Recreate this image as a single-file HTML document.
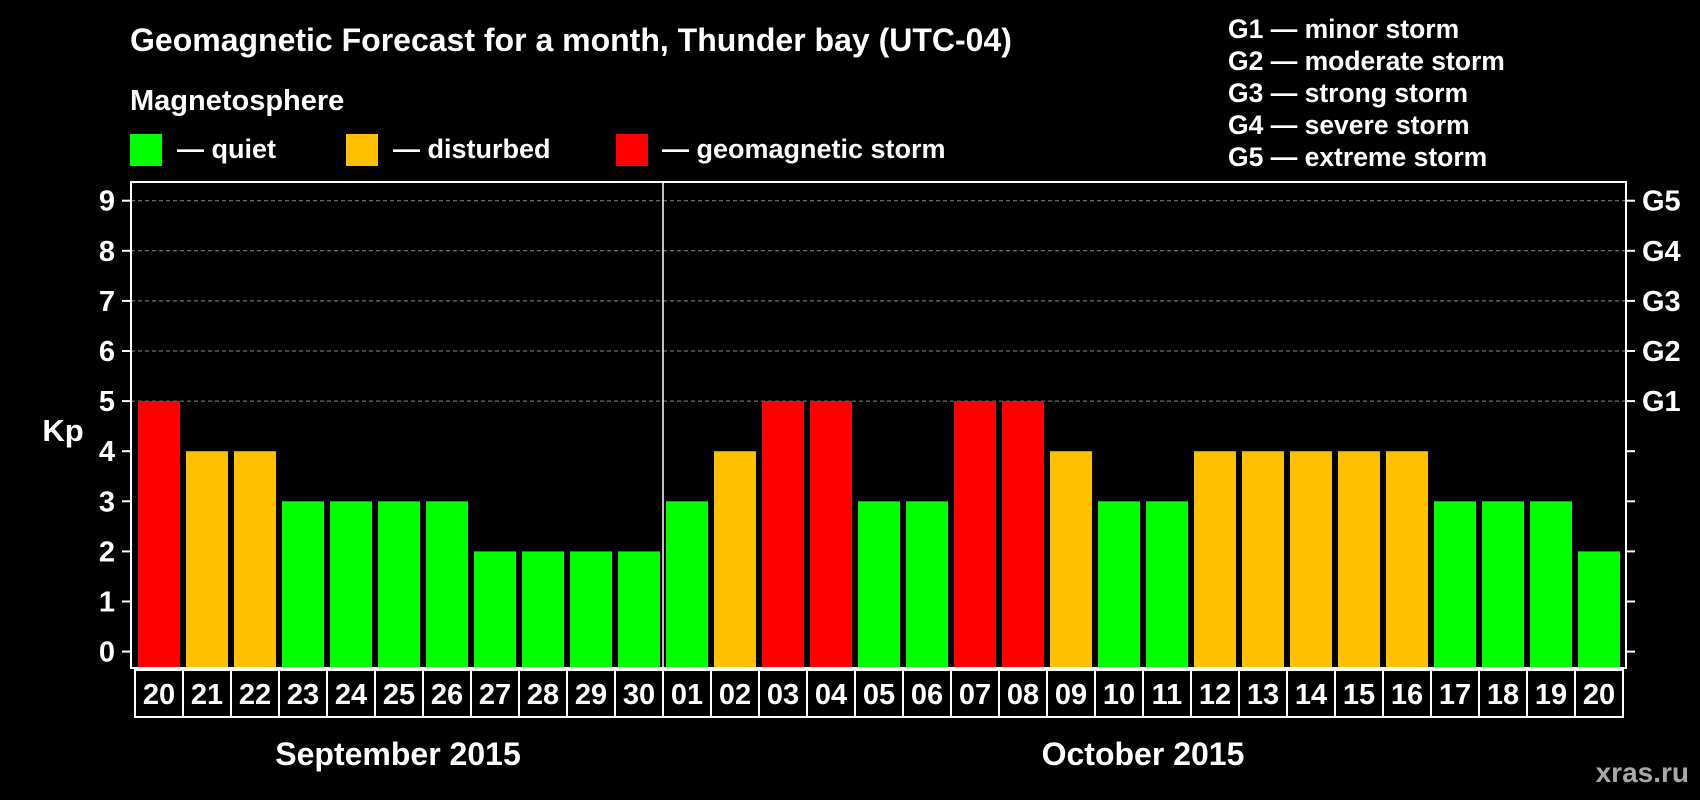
<!DOCTYPE html>
<html><head><meta charset="utf-8"><style>
html,body{margin:0;padding:0;background:#000;}
svg{display:block;font-family:"Liberation Sans",Arial,sans-serif;font-weight:bold;}
</style></head><body>
<svg id="chart" width="1700" height="800" viewBox="0 0 1700 800">
<rect x="0" y="0" width="1700" height="800" fill="#000"/>
<text x="130" y="51" font-size="32" fill="#fff">Geomagnetic Forecast for a month, Thunder bay (UTC-04)</text>
<text x="130" y="110" font-size="29" fill="#fff">Magnetosphere</text>
<g>
<rect x="130" y="134" width="32" height="32" fill="#00ff00"/>
<text x="177" y="158" font-size="27" fill="#fff">— quiet</text></g>
<g>
<rect x="346" y="134" width="32" height="32" fill="#ffc000"/>
<text x="393" y="158" font-size="27" fill="#fff">— disturbed</text></g>
<g>
<rect x="616" y="134" width="32" height="32" fill="#ff0000"/>
<text x="662" y="158" font-size="27" fill="#fff">— geomagnetic storm</text></g>
<g font-size="26.5" fill="#fff">
<text x="1228" y="38">G1 — minor storm</text>
<text x="1228" y="70">G2 — moderate storm</text>
<text x="1228" y="102">G3 — strong storm</text>
<text x="1228" y="134">G4 — severe storm</text>
<text x="1228" y="166">G5 — extreme storm</text>
</g>
<text x="63" y="441" font-size="31" fill="#fff" text-anchor="middle">Kp</text>
<text x="398" y="765" font-size="32" fill="#fff" text-anchor="middle">September 2015</text>
<text x="1143" y="765" font-size="32" fill="#fff" text-anchor="middle">October 2015</text>
<text x="1689" y="782" font-size="28" fill="#a8a8a8" text-anchor="end">xras.ru</text>
<g id="plot"></g>
</svg>
<script>
const dayLabels = ["20","21","22","23","24","25","26","27","28","29","30","01","02","03","04","05","06","07","08","09","10","11","12","13","14","15","16","17","18","19","20"];
const kpValues = [5,4,4,3,3,3,3,2,2,2,2,3,4,5,5,3,3,5,5,4,3,3,4,4,4,4,4,3,3,3,2];
const yTicks = [0,1,2,3,4,5,6,7,8,9];
const gLabels = ["G1","G2","G3","G4","G5"];
const gValues = [5,6,7,8,9];

const NS = "http://www.w3.org/2000/svg";
const plot = document.getElementById('plot');
const L = 131, R = 1626, T = 182, B = 668;
const y0 = 651.6, unit = 50.1;
const yScale = v => y0 - v * unit;
const firstX = 138, pitch = 48, barW = 42;
const xScale = i => firstX + i * pitch;
function mk(tag, attrs) { const e = document.createElementNS(NS, tag); for (const k in attrs) e.setAttribute(k, attrs[k]); plot.appendChild(e); return e; }
function color(v) { return v >= 5 ? "#ff0000" : (v === 4 ? "#ffc000" : "#00ff00"); }

gValues.forEach(v => {
  const g = mk('line', {x1: L, x2: R, y1: yScale(v), y2: yScale(v), stroke: '#8a8a8a', 'stroke-width': 1, 'stroke-dasharray': '4 3'});
  
  
});
kpValues.forEach((v, i) => {
  const r = mk('rect', {x: xScale(i), y: yScale(v), width: barW, height: B - yScale(v), fill: color(v)});
  
  
});
const fr = mk('rect', {x: L, y: T, width: R - L, height: B - T, fill: 'none', stroke: '#fff', 'stroke-width': 2});


const sepX = xScale(11) - (pitch - barW) / 2;
const sep = mk('line', {x1: sepX, x2: sepX, y1: T, y2: B, stroke: '#fff', 'stroke-width': 1.5});


yTicks.forEach(v => {
  const y = yScale(v);
  const t1 = mk('line', {x1: 122, x2: L, y1: y, y2: y, stroke: '#fff', 'stroke-width': 2});
  
  
  const t2 = mk('line', {x1: R, x2: 1635, y1: y, y2: y, stroke: '#fff', 'stroke-width': 2});
  
  
  const tx = mk('text', {x: 115, y: y + 10, 'font-size': 29, fill: '#fff', 'text-anchor': 'end'});
  tx.textContent = v;
  
  
});
gLabels.forEach((g, i) => {
  const tx = mk('text', {x: 1642, y: yScale(gValues[i]) + 10, 'font-size': 29, fill: '#fff'});
  tx.textContent = g;
  
  
});
dayLabels.forEach((d, i) => {
  const cx = xScale(i) - 3;
  const c = mk('rect', {x: cx, y: 670, width: pitch, height: 47, fill: '#000', stroke: '#fff', 'stroke-width': 2});
  
  
  const tx = mk('text', {x: cx + pitch / 2, y: 704, 'font-size': 29, fill: '#fff', 'text-anchor': 'middle'});
  tx.textContent = d;
  
  
});
</script>
</body></html>
